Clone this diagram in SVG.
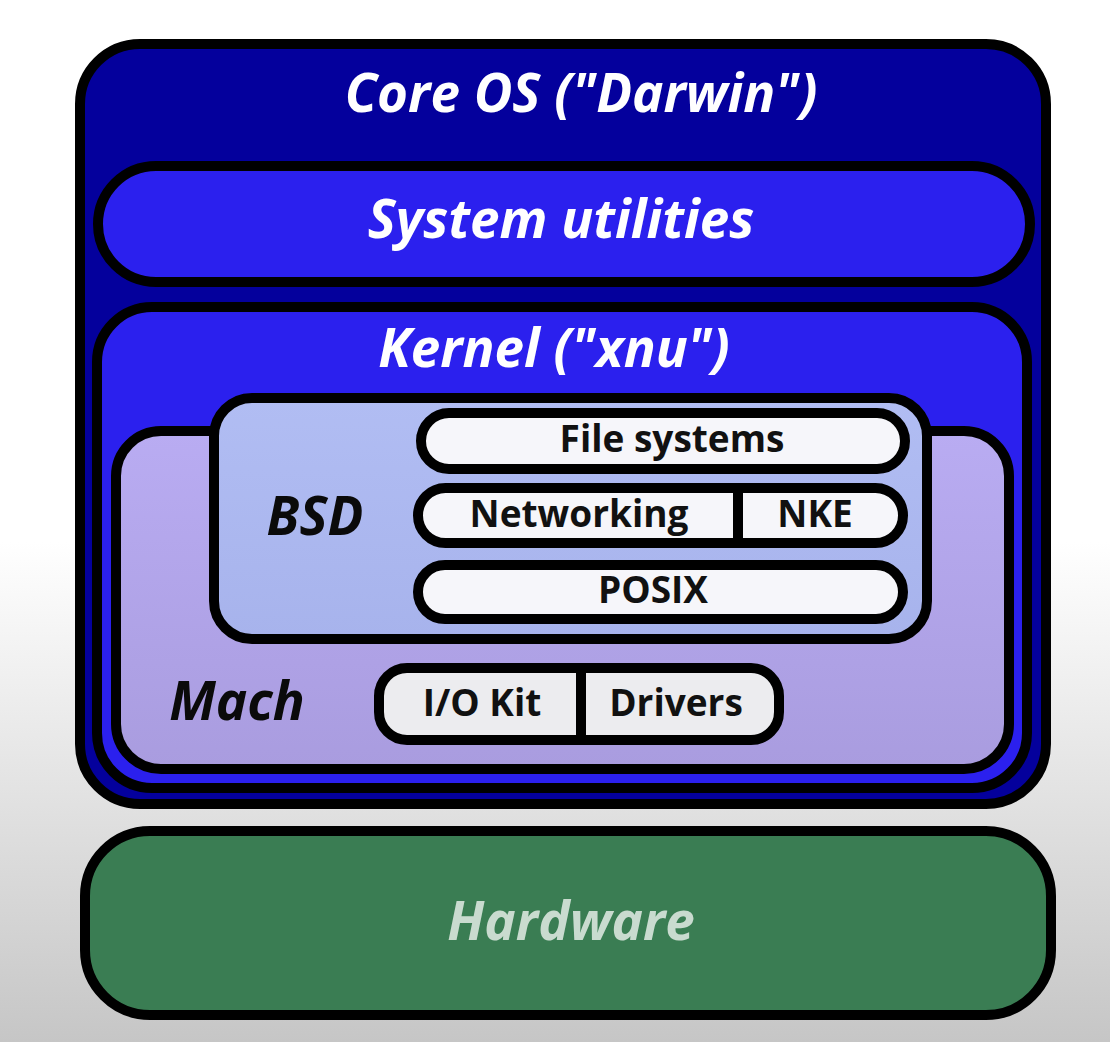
<svg xmlns="http://www.w3.org/2000/svg" width="1110" height="1042" viewBox="0 0 1110 1042">
  <defs>
    <linearGradient id="bg" x1="0" y1="0" x2="0" y2="1">
      <stop offset="0" stop-color="#ffffff"/>
      <stop offset="0.52" stop-color="#ffffff"/>
      <stop offset="1" stop-color="#c6c6c6"/>
    </linearGradient>
    <linearGradient id="machFill" x1="0" y1="0" x2="0" y2="1">
      <stop offset="0" stop-color="#b9acf2"/>
      <stop offset="1" stop-color="#a99cdf"/>
    </linearGradient>
    <linearGradient id="bsdFill" x1="0" y1="0" x2="0" y2="1">
      <stop offset="0" stop-color="#b1bdf3"/>
      <stop offset="1" stop-color="#a7b3ec"/>
    </linearGradient>
    <style>
      .box { stroke: #000; stroke-width: 10; }
      .pill { stroke: #000; stroke-width: 10; }
      .div { stroke: #000; stroke-width: 10; }
      .title { font-family: "Open Sans", "Noto Sans", "DejaVu Sans", sans-serif; font-weight: 700; font-style: italic; text-anchor: middle; font-size: 53px; }
      .lbl { font-family: "Open Sans", "Noto Sans", "DejaVu Sans", sans-serif; font-weight: 700; font-size: 37px; fill: #111; text-anchor: middle; }
    </style>
  </defs>
  <rect x="0" y="0" width="1110" height="1042" fill="url(#bg)"/>

  <g id="core-os">
    <rect class="box" x="80" y="44" width="966" height="760" rx="60" fill="#04009c"/>
    <text class="title" x="581" y="112" fill="#ffffff">Core OS ("Darwin")</text>
  </g>

  <g id="system-utilities">
    <rect class="box" x="98" y="166" width="932" height="116" rx="58" fill="#2b20ee"/>
    <text class="title" x="561" y="238" fill="#ffffff">System utilities</text>
  </g>

  <g id="kernel">
    <rect class="box" x="97" y="307" width="930" height="481" rx="55" fill="#2b20ee"/>
    <text class="title" x="554" y="367" fill="#ffffff">Kernel ("xnu")</text>
  </g>

  <g id="mach">
    <rect class="box" x="116" y="431" width="893" height="338" rx="45" fill="url(#machFill)"/>
    <text class="title" x="237" y="720" fill="#0a0a0a">Mach</text>
  </g>

  <g id="bsd">
    <rect class="box" x="214" y="398" width="713" height="241" rx="38" fill="url(#bsdFill)"/>
    <text class="title" x="315" y="535" fill="#0a0a0a">BSD</text>
  </g>

  <g id="file-systems">
    <rect class="pill" x="421" y="413" width="484" height="56" rx="28" fill="#f6f6fa"/>
    <text class="lbl" x="672" y="452">File systems</text>
  </g>

  <g id="networking">
    <rect class="pill" x="418" y="488" width="485" height="55" rx="27.5" fill="#f6f6fa"/>
    <text class="lbl" x="579" y="527">Networking</text>
  </g>

  <g id="nke">
    <text class="lbl" x="815" y="527">NKE</text>
  </g>

  <g id="posix">
    <rect class="pill" x="418" y="565" width="485" height="54" rx="27" fill="#f6f6fa"/>
    <text class="lbl" x="653" y="603">POSIX</text>
  </g>

  <g id="io-kit">
    <rect class="pill" x="379" y="668" width="400" height="72" rx="28" fill="#ececef"/>
    <text class="lbl" x="482" y="716">I/O Kit</text>
  </g>

  <g id="drivers">
    <text class="lbl" x="676" y="716">Drivers</text>
  </g>

  <g id="hardware">
    <rect class="box" x="85" y="831" width="966" height="184" rx="65" fill="#3a7d53"/>
    <text class="title" x="571" y="940" fill="#c9dbcf">Hardware</text>
  </g>

  <g id="connectors">
    <line class="div" x1="738" y1="488" x2="738" y2="543"/>
    <line class="div" x1="581" y1="668" x2="581" y2="740"/>
  </g>
</svg>
